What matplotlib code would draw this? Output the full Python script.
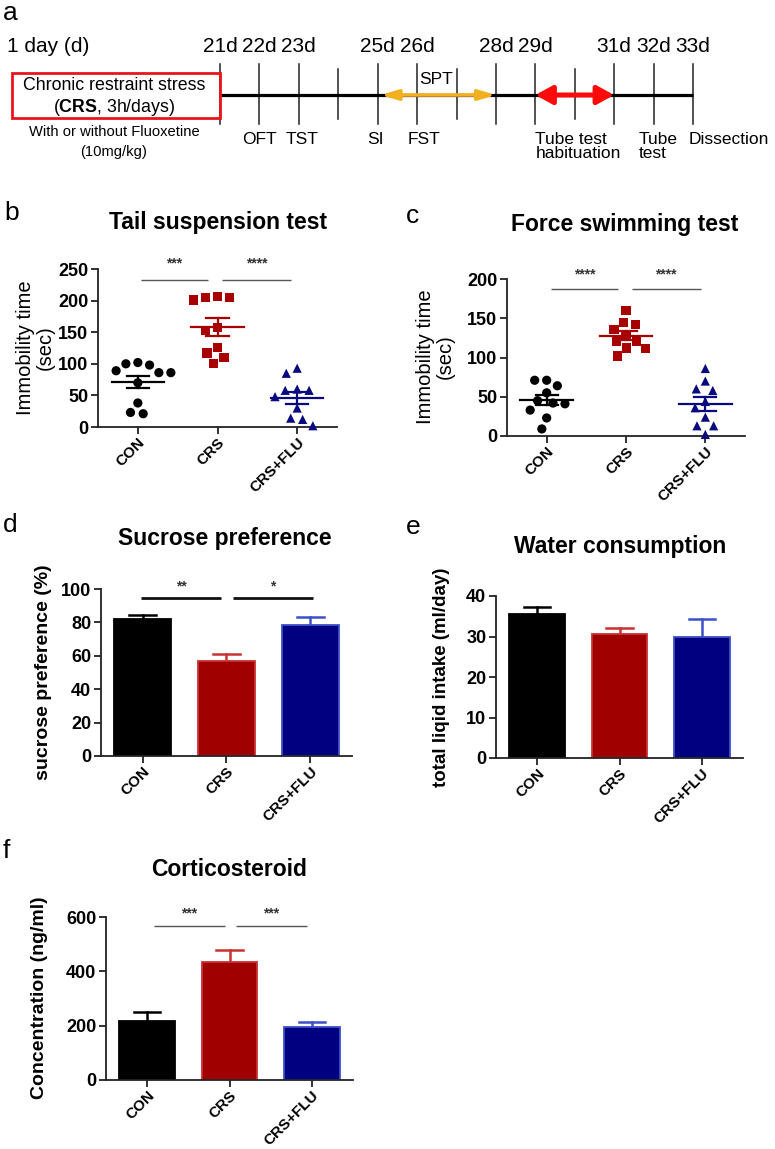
import numpy as np
import matplotlib
matplotlib.use("Agg")
import matplotlib.pyplot as plt
from matplotlib.patches import Rectangle

plt.rcParams['font.family'] = ['Liberation Sans', 'DejaVu Sans']
plt.rcParams['mathtext.fontset'] = 'custom'
plt.rcParams['mathtext.rm'] = 'Liberation Sans'
plt.rcParams['mathtext.bf'] = 'Liberation Sans:bold'

# ---------------- data ----------------
groups = ["CON", "CRS", "CRS+FLU"]

# timeline
tick_days = [21, 22, 23, 24, 25, 26, 27, 28, 29, 30, 31, 32, 33]
labeled_days = [21, 22, 23, 25, 26, 28, 29, 31, 32, 33]
spt_days = (25, 28)
habituation_days = (29, 31)

# b: tail suspension test (immobility, sec)
tst_con = [100, 89, 86, 86, 98, 102, 70, 38, 21, 23]
tst_crs = [207, 205, 201, 205, 153, 157, 126, 117, 110, 101]
tst_flu = [93, 85, 60, 58, 58, 48, 30, 14, 12, 2]
tst_stars = ["***", "****"]

# c: forced swimming test (immobility, sec)
fst_con = [71, 71, 64, 55, 42, 45, 41, 33, 23, 9]
fst_crs = [160, 145, 142, 136, 129, 121, 120, 112, 111, 102]
fst_flu = [86, 70, 60, 58, 44, 36, 24, 13, 13, 2]
fst_stars = ["****", "****"]

# d: sucrose preference (%)
spt_mean = [82.0, 57.0, 78.2]
spt_sem = [2.6, 4.0, 5.2]
spt_stars = ["**", "*"]

# e: water consumption (ml/day)
water_mean = [35.5, 30.5, 30.0]
water_sem = [1.9, 1.7, 4.4]

# f: corticosteroid (ng/ml)
cort_mean = [217, 436, 196]
cort_sem = [35, 43, 17]
cort_stars = ["***", "***"]

# ---------------- styling ----------------
W, H = 775, 1149
fig = plt.figure(figsize=(W / 100, H / 100), dpi=100)

fill_cols = ['#000000', '#a00000', '#000080']
edge_cols = ['#000000', '#c83232', '#3c50c8']
pt_cols = ['#000000', '#a80000', '#0a0a80']
markers = ['o', 's', '^']
AX_COL = '#222222'


def add_ax(x0, y0, x1, y1):
    return fig.add_axes([x0 / W, 1 - y1 / H, (x1 - x0) / W, (y1 - y0) / H])


def ftext(x, y, s, **kw):
    return fig.text(x / W, 1 - y / H, s, **kw)


def style(ax, ylim, step):
    for s in ['top', 'right']:
        ax.spines[s].set_visible(False)
    for s in ['left', 'bottom']:
        ax.spines[s].set_color(AX_COL)
        ax.spines[s].set_linewidth(1.3)
    ax.set_xlim(-0.5, 2.5)
    ax.set_ylim(*ylim)
    ax.set_yticks(np.arange(ylim[0], ylim[1] + step / 2, step))
    ax.set_xticks(range(len(groups)))
    ax.set_xticklabels(groups, rotation=45, ha='right', rotation_mode='anchor',
                       fontsize=11, fontweight='bold')
    for lab in ax.get_yticklabels():
        lab.set_fontweight('bold')
        lab.set_fontsize(13)
    ax.tick_params(direction='out', length=5, width=1.3, color=AX_COL, pad=2)
    ax.tick_params(axis='x', pad=1)
    ax.patch.set_alpha(0)


def sig(ax, spans, y_line, y_star, stars, color, lw, fs=10):
    for (a, b), st in zip(spans, stars):
        ax.plot([a, b], [y_line, y_line], color=color, lw=lw, clip_on=False,
                solid_capstyle='butt')
        ax.text((a + b) / 2, y_star, st, ha='center', va='center', fontsize=fs,
                fontweight='bold', color='#333333', clip_on=False)


def swarm_offsets(ypx, d):
    order = np.argsort(-np.asarray(ypx))
    placed = []
    xs = np.zeros(len(ypx))
    for i in order:
        y = ypx[i]
        cands = [0.0]
        for (px, py) in placed:
            dy = abs(py - y)
            if dy < d:
                dx = np.sqrt(d * d - dy * dy)
                cands += [px + dx, px - dx]
        cands.sort(key=lambda c: (abs(c), c))
        for c in cands:
            if all((c - px) ** 2 + (y - py) ** 2 >= d * d - 1e-6 for px, py in placed):
                xs[i] = c
                placed.append((c, y))
                break
    return xs


def scatter_panel(ax, data_sets):
    t = ax.transData
    ppc = t.transform((1, 0))[0] - t.transform((0, 0))[0]
    for k, vals in enumerate(data_sets):
        vals = np.asarray(vals, float)
        ypx = np.array([t.transform((0, v))[1] for v in vals])
        off = swarm_offsets(ypx, 12.0) / ppc
        ax.scatter(k + off, vals, marker=markers[k], s=44, color=pt_cols[k],
                   edgecolors='none', zorder=3, clip_on=False)
        m = vals.mean()
        se = vals.std(ddof=1) / np.sqrt(len(vals))
        ax.plot([k - 0.33, k + 0.33], [m, m], color=pt_cols[k], lw=1.6, zorder=4)
        ax.plot([k - 0.14, k + 0.14], [m + se, m + se], color=pt_cols[k], lw=1.6, zorder=4)
        ax.plot([k - 0.14, k + 0.14], [m - se, m - se], color=pt_cols[k], lw=1.6, zorder=4)
        ax.plot([k, k], [m - se, m + se], color=pt_cols[k], lw=1.6, zorder=4)


def bar_panel(ax, means, sems):
    ax.bar(range(len(means)), means, width=0.68, color=fill_cols,
           edgecolor=edge_cols, linewidth=1.3, zorder=2)
    for k, (m, s) in enumerate(zip(means, sems)):
        ax.plot([k, k], [m, m + s], color=edge_cols[k], lw=1.8, zorder=1)
        ax.plot([k - 0.16, k + 0.16], [m + s, m + s], color=edge_cols[k], lw=1.8, zorder=1)


# ---------------- panel a: timeline ----------------
axt = add_ax(0, 0, W, 170)
ppd = (693 - 220) / 12.0
x0d = 21 - 220 / ppd
axt.set_xlim(x0d, 21 + (W - 220) / ppd)
axt.set_ylim(170, 0)
axt.axis('off')

axt.plot([tick_days[0], tick_days[-1]], [95, 95], color='k', lw=2.3, zorder=2,
         solid_capstyle='butt')
for d in tick_days:
    if d in labeled_days:
        axt.plot([d, d], [64, 124], color=AX_COL, lw=1.1, zorder=1)
        axt.text(d, 47, f"{d}d", ha='center', va='center', fontsize=15)
    else:
        axt.plot([d, d], [69, 119], color=AX_COL, lw=1.1, zorder=1)

axt.annotate('', xy=(spt_days[1], 95), xytext=(spt_days[0] + 3 / ppd, 95),
             arrowprops=dict(arrowstyle='<|-|>,head_length=1.0,head_width=0.3',
                             color='#f2b01e', lw=2.6, shrinkA=0, shrinkB=0), zorder=3)
axt.annotate('', xy=(habituation_days[1], 95), xytext=(habituation_days[0], 95),
             arrowprops=dict(arrowstyle='<|-|>,head_length=1.0,head_width=0.55',
                             color='#ff0a0a', lw=3.6, shrinkA=0, shrinkB=0), zorder=3)

box_l = x0d + 12 / ppd
axt.add_patch(Rectangle((box_l, 73), 21 - box_l, 45, fill=False, edgecolor='#e8141e',
                        lw=2.0, zorder=4))
bc = (box_l + 21) / 2 - 2 / ppd
axt.text(bc, 86, "Chronic restraint stress", ha='center', va='center', fontsize=12.8)
axt.text(bc, 107, r"($\mathbf{CRS}$, 3h/days)", ha='center', va='center', fontsize=12.8)
axt.text(bc, 132, "With or without Fluoxetine", ha='center', va='center', fontsize=10.6)
axt.text(bc, 152, "(10mg/kg)", ha='center', va='center', fontsize=10.6)
axt.text(x0d + 7 / ppd, 47, "1 day (d)", ha='left', va='center', fontsize=15)
axt.text(26 + 2 / ppd, 80, "SPT", ha='left', va='center', fontsize=12.5)

axt.text(22, 140, "OFT", ha='center', va='center', fontsize=12.5)
axt.text(23 + 3 / ppd, 140, "TST", ha='center', va='center', fontsize=12.5)
axt.text(25 - 2 / ppd, 140, "SI", ha='center', va='center', fontsize=12.5)
axt.text(26 + 7 / ppd, 140, "FST", ha='center', va='center', fontsize=12.5)
axt.text(29, 140, "Tube test", ha='left', va='center', fontsize=12.5)
axt.text(29, 153, "habituation", ha='left', va='center', fontsize=12.5)
axt.text(32 - 15 / ppd, 140, "Tube", ha='left', va='center', fontsize=12.5)
axt.text(32 - 15 / ppd, 153, "test", ha='left', va='center', fontsize=12.5)
axt.text(33 - 4 / ppd, 140, "Dissection", ha='left', va='center', fontsize=12.5)

# ---------------- panel b ----------------
axb = add_ax(98, 269, 337, 427)
style(axb, (0, 250), 50)
scatter_panel(axb, [tst_con, tst_crs, tst_flu])
sig(axb, [(0.04, 0.88), (1.06, 1.92)], 232.6, 259, tst_stars, '#555555', 1.0)

# ---------------- panel c ----------------
axc = add_ax(507, 279, 745, 436)
style(axc, (0, 200), 50)
scatter_panel(axc, [fst_con, fst_crs, fst_flu])
sig(axc, [(0.05, 0.9), (1.07, 1.94)], 187, 206, fst_stars, '#555555', 1.0)

# ---------------- panel d ----------------
axd = add_ax(101, 589, 352, 756)
style(axd, (0, 100), 20)
bar_panel(axd, spt_mean, spt_sem)
sig(axd, [(-0.02, 0.93), (1.08, 2.03)], 94.8, 101.5, spt_stars, '#111111', 2.0)

# ---------------- panel e ----------------
axe = add_ax(496, 596, 743, 758)
style(axe, (0, 40), 10)
bar_panel(axe, water_mean, water_sem)

# ---------------- panel f ----------------
axf = add_ax(106, 917, 353, 1080)
style(axf, (0, 600), 200)
bar_panel(axf, cort_mean, cort_sem)
sig(axf, [(0.08, 0.945), (1.08, 1.94)], 566, 614, cort_stars, '#555555', 1.0)

# ---------------- titles, labels ----------------
tkw = dict(ha='center', va='center', fontsize=16.5, fontweight='bold')
ftext(218, 222, "Tail suspension test", **tkw)
ftext(625, 225, "Force swimming test", **tkw)
ftext(225, 538, "Sucrose preference", **tkw)
ftext(620, 547, "Water consumption", **tkw)
ftext(229, 869, "Corticosteroid", **tkw)

ftext(35, 348, "Immobility time\n(sec)", ha='center', va='center', rotation=90,
      fontsize=14.5, linespacing=1.05)
ftext(435, 357, "Immobility time\n(sec)", ha='center', va='center', rotation=90,
      fontsize=14.5, linespacing=1.05)
ftext(44, 672, "sucrose preference (%)", ha='center', va='center', rotation=90,
      fontsize=14, fontweight='bold')
ftext(442, 677, "total liqid intake (ml/day)", ha='center', va='center', rotation=90,
      fontsize=13.5, fontweight='bold')
ftext(40, 998, "Concentration (ng/ml)", ha='center', va='center', rotation=90,
      fontsize=14, fontweight='bold')

pkw = dict(ha='left', va='center', fontsize=19)
ftext(3, 13, "a", **pkw)
ftext(4, 213, "b", **pkw)
ftext(406, 216, "c", **pkw)
ftext(3, 525, "d", **pkw)
ftext(406, 527, "e", **pkw)
ftext(3, 851, "f", **pkw)

fig.savefig("out.png", dpi=100)
